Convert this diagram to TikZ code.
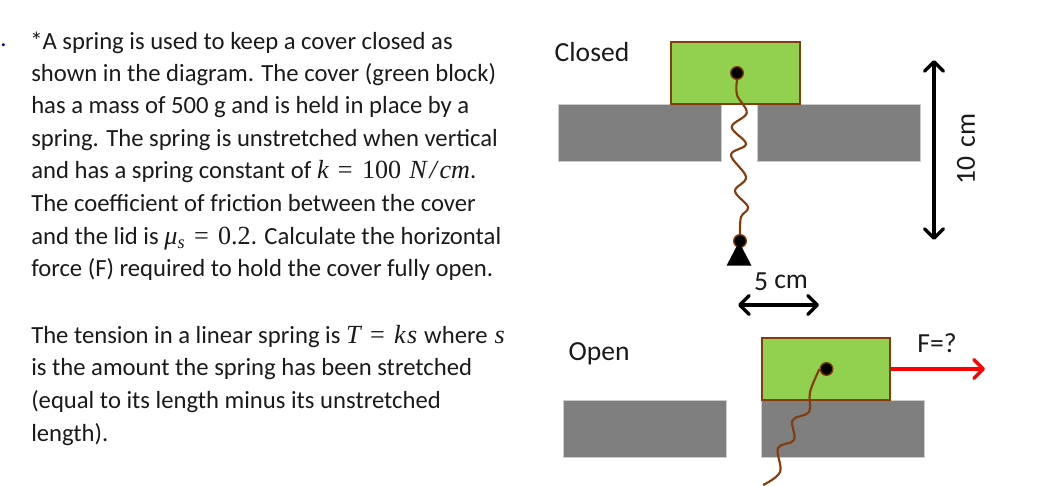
\documentclass[tikz,border=0pt]{standalone}
\usepackage{fontspec}
\setmainfont{Carlito}
\newfontfamily\formulafont[Scale=1.06]{Liberation Serif}
\usepackage{tikz}
\usetikzlibrary{arrows.meta,positioning,shapes.geometric}
\definecolor{covergreen}{HTML}{92D050}
\definecolor{coverbrown}{HTML}{843C0C}
\definecolor{lidgray}{HTML}{7F7F7F}
\definecolor{inktext}{HTML}{1A1A1A}
\newcommand{\fm}[1]{{\formulafont\itshape #1}}
\newcommand{\fn}[1]{{\formulafont #1}}
\newcommand{\feq}{\hspace{7pt}\fn{=}\hspace{7pt}}
\tikzset{
textline/.style={anchor=base west,inner sep=0pt,font=\fontsize{18.5}{20}\selectfont,text=inktext},
caption/.style={inner sep=0pt,font=\fontsize{20.7}{22}\selectfont,text=inktext},
lid/.style={fill=lidgray,draw=lidgray!40,line width=0.5pt,minimum width=122pt,minimum height=42.75pt,inner sep=0pt},
cover/.style={fill=covergreen,draw=coverbrown,line width=1.7pt,minimum width=96.5pt,minimum height=46.5pt,inner sep=0pt},
pin/.style={circle,fill=black,draw=coverbrown,line width=1pt,minimum size=9.5pt,inner sep=0pt},
spring/.style={draw=coverbrown,line width=1.6pt,line join=round},
dim/.style={black,line width=2.6pt,{Straight Barb[length=7pt,width=14pt,round]}-{Straight Barb[length=7pt,width=14pt,round]}}
}
\begin{document}
\begin{tikzpicture}[x=0.75pt,y=-0.75pt]
\useasboundingbox (0,0) rectangle (1044,485);
% question text
\node[textline,text=blue!60!black] (num) at (0,46) {.};
\node[textline] (l1) at (30,49.7) {*A spring is used to keep a cover closed as};
\node[textline] (l2) at (31,81.7) {shown in the diagram. The cover (green block)};
\node[textline] (l3) at (31,113.7) {has a mass of 500 g and is held in place by a};
\node[textline] (l4) at (31,146.7) {spring. The spring is unstretched when vertical};
\node[textline] (l5) at (31,178.7) {and has a spring constant of \fm{k}\feq\fn{100}\hspace{2pt} \fm{N\hspace{2pt}/\hspace{2pt}cm}.};
\node[textline] (l6) at (31,211.3) {The coefficient of friction between the cover};
\node[textline] (l7) at (31,244.7) {and the lid is \fm{μ}\raisebox{-3pt}{\fontsize{13}{14}\selectfont\fm{s}}\feq\fn{0.2}. Calculate the horizontal};
\node[textline] (l8) at (31,276.7) {force (F) required to hold the cover fully open.};
\node[textline] (l9) at (31,343) {The tension in a linear spring is \fm{T}\feq\fm{k\hspace{1pt}s}\hspace{1pt} where \hspace{1pt}\fm{s}};
\node[textline] (l10) at (31,375) {is the amount the spring has been stretched};
\node[textline] (l11) at (31,408) {(equal to its length minus its unstretched};
\node[textline] (l12) at (31,441) {length).};
% closed
\node[caption] (closed) at (592,52) {Closed};
\node[lid] (lidA) at (639.5,132.5) {};
\node[lid] (lidB) at (838.5,132.5) {};
\node[cover] (coverA) at (735.5,73) {};
\node[pin] (pinA) at (737,73) {};
\node[pin] (pinB) at (740,241) {};
\node[isosceles triangle,isosceles triangle apex angle=55,shape border rotate=90,fill=black,minimum height=18pt,inner sep=0pt,anchor=lower side] (base) at (739,266) {};
\path[spring] plot[smooth,tension=0.6] coordinates {(pinA.south) (737,95) (746.7,113) (731.7,127) (746,144) (731,155) (746,177) (735,191) (748,207) (741,217) (pinB.north)};
% dimensions
\coordinate (topend) at (934,60);
\coordinate (botend) at (934,240);
\draw[dim] (topend) -- (botend);
\node[caption,rotate=90] (ten) at (966,149) {10\hspace{2pt} cm};
\coordinate (leftend) at (738,305);
\coordinate (rightend) at (819,305);
\draw[dim] (leftend) -- (rightend);
\node[caption] (five) at (781,282) {5 \raisebox{2pt}{cm}};
% open
\node[caption] (open) at (599,354) {Open};
\node[lid] (lidC) at (644.5,428.5) {};
\node[lid] (lidD) at (843,428.5) {};
\node[cover] (coverB) at (826,369) {};
\node[pin] (pinC) at (826.5,369) {};
\coordinate (cutend) at (763,485);
\path[spring] plot[smooth,tension=0.6] coordinates {(pinC.west) (810,392) (809,412) (792.7,420) (794,440) (778,448) (780,472) (cutend)};
\coordinate (forceend) at (985,369);
\draw[red,line width=2.6pt,-{Straight Barb[length=7pt,width=14pt,round]}] (coverB.east) -- (forceend);
\node[caption] (force) at (937,343) {F=?};
\end{tikzpicture}
\end{document}
